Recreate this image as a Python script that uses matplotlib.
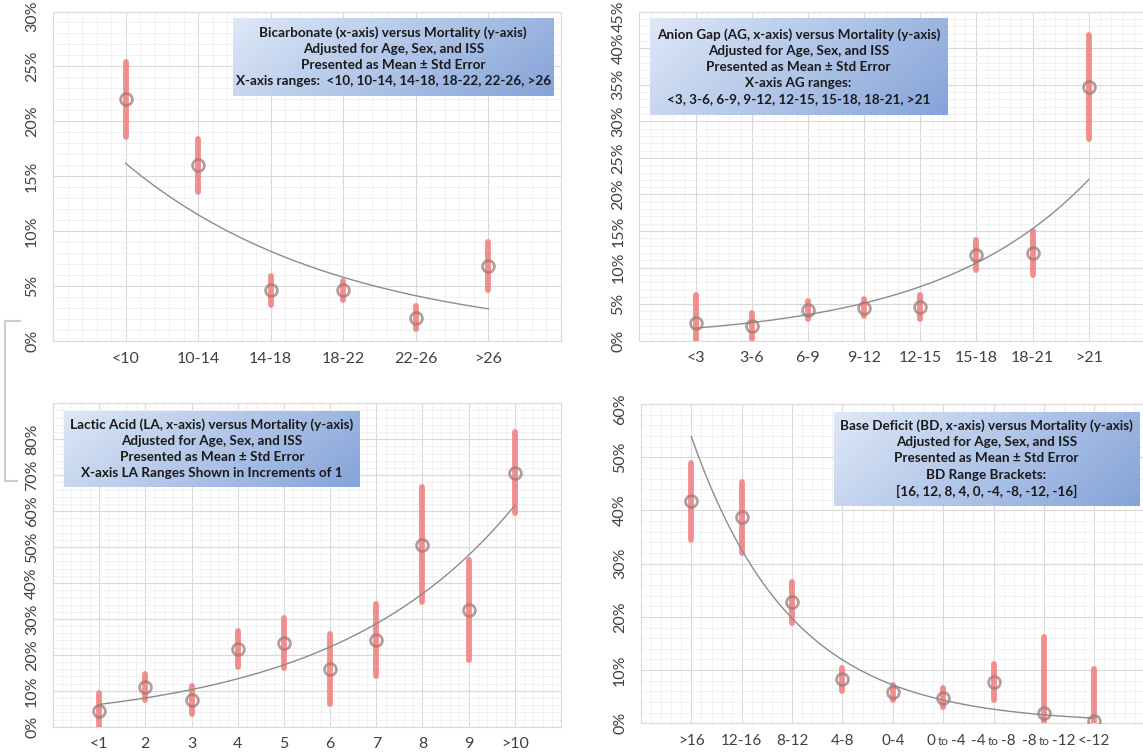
import matplotlib.pyplot as plt
import numpy as np
from matplotlib.ticker import MultipleLocator, FixedLocator, FuncFormatter
from matplotlib.lines import Line2D

plt.rcParams['font.family'] = ['Lato', 'DejaVu Sans']

W, H = 1143, 753

# bicarbonate
hco3_labels = ['<10', '10-14', '14-18', '18-22', '22-26', '>26']
hco3_mean = [22.0, 16.0, 4.6, 4.6, 2.1, 6.8]
hco3_se = [3.4, 2.4, 1.3, 0.9, 1.05, 2.2]
hco3_box = ['Bicarbonate (x-axis) versus Mortality (y-axis)',
            'Adjusted for Age, Sex, and ISS',
            'Presented as Mean \u00b1 Std Error',
            'X-axis ranges:  <10, 10-14, 14-18, 18-22, 22-26, >26']

# anion gap
ag_labels = ['<3', '3-6', '6-9', '9-12', '12-15', '15-18', '18-21', '>21']
ag_mean = [2.45, 2.0, 4.2, 4.5, 4.6, 11.7, 12.0, 34.7]
ag_se = [3.8, 1.8, 1.25, 1.15, 1.6, 2.05, 2.95, 7.15]
ag_box = ['Anion Gap (AG, x-axis) versus Mortality (y-axis)',
          'Adjusted for Age, Sex, and ISS',
          'Presented as Mean \u00b1 Std Error',
          'X-axis AG ranges:',
          '<3, 3-6, 6-9, 9-12, 12-15, 15-18, 18-21, >21']

# lactic acid
la_labels = ['<1', '2', '3', '4', '5', '6', '7', '8', '9', '>10']
la_mean = [4.4, 11.1, 7.4, 21.6, 23.2, 16.0, 24.1, 50.7, 32.5, 70.7]
la_se = [4.9, 3.55, 3.95, 5.0, 7.0, 9.7, 10.1, 16.0, 14.0, 11.2]
la_box = ['Lactic Acid (LA, x-axis) versus Mortality (y-axis)',
          'Adjusted for Age, Sex, and ISS',
          'Presented as Mean \u00b1 Std Error',
          'X-axis LA Ranges Shown in Increments of 1']

# base deficit
bd_labels = ['>16', '12-16', '8-12', '4-8', '0-4', '0 to -4', '-4 to -8', '-8 to -12', '<-12']
bd_mean = [41.7, 38.7, 22.7, 8.3, 5.8, 4.8, 7.8, 2.0, 0.4]
bd_se = [7.2, 6.7, 3.9, 2.15, 1.45, 1.8, 3.4, 14.3, 9.8]
bd_box = ['Base Deficit (BD, x-axis) versus Mortality (y-axis)',
          'Adjusted for Age, Sex, and ISS',
          'Presented as Mean \u00b1 Std Error',
          'BD Range Brackets:',
          '[16, 12, 8, 4, 0, -4, -8, -12, -16]']

fig = plt.figure(figsize=(W / 100, H / 100), dpi=100)

# gradient for the text boxes
gx, gy = np.meshgrid(np.linspace(0, 1, 200), np.linspace(0, 1, 60))
t = 0.75 * gx + 0.25 * gy
c0 = np.array([0.87, 0.91, 0.97])
c1 = np.array([0.52, 0.64, 0.85])
grad = c0 + t[..., None] * (c1 - c0)

TICK_C = '#404040'
FS = 11.5


def panel(rect, labels, mean, se, ymax, ystep, ylab_max, box, lines):
    l, r, top, b = rect
    ax = fig.add_axes([l / W, 1 - b / H, (r - l) / W, (b - top) / H])
    n = len(labels)
    x = np.arange(1, n + 1)
    mean = np.array(mean)
    se = np.array(se)

    lc = ax.vlines(x, mean - se, mean + se, color='#f07c7c', alpha=0.85,
                   lw=4.2, zorder=3)
    lc.set_capstyle('round')

    coef = np.polyfit(x, np.log(mean), 1)
    xx = np.linspace(1, n, 200)
    ax.plot(xx, np.exp(np.polyval(coef, xx)), color='#8c8c8c', lw=1.0, zorder=4)

    ax.plot(x, mean, 'o', ms=8.5, mfc='none', mec='#a07a7a', mew=2.0,
            alpha=0.75, zorder=5)

    ax.set_xlim(0, n + 1)
    ax.set_ylim(0, ymax)
    ax.xaxis.set_major_locator(FixedLocator(x))
    ax.xaxis.set_minor_locator(MultipleLocator(0.2))
    ax.yaxis.set_major_locator(MultipleLocator(ystep))
    ax.yaxis.set_minor_locator(MultipleLocator(ystep / 5))
    ax.grid(which='major', color='#d9d9d9', lw=0.8)
    ax.grid(which='minor', color='#efefef', lw=0.6)
    ax.set_axisbelow(True)
    ax.tick_params(which='both', length=0)
    ax.set_yticklabels([])
    for s in ax.spines.values():
        s.set_color('#d9d9d9')
        s.set_linewidth(0.8)

    # y labels, rotated, the top one nudged down to stay on the page
    for v in np.arange(0, ylab_max + 0.01, ystep):
        dy = -3.5 if v >= ymax - 1e-6 else 0
        ax.annotate('%d%%' % round(v), xy=(0, v),
                    xycoords=('axes fraction', 'data'),
                    xytext=(-10, dy), textcoords='offset points',
                    rotation=90, ha='right', va='center', fontsize=FS,
                    color=TICK_C, annotation_clip=False)

    # x labels; "a to b" gets a small "to" like the original
    small = any(' to ' in s for s in labels)
    ax.set_xticklabels([])
    for xi, s in zip(x, labels):
        kw = dict(xy=(xi, 0), xycoords=('data', 'axes fraction'),
                  textcoords='offset points', va='baseline', color=TICK_C,
                  annotation_clip=False)
        if ' to ' in s:
            a, c = s.split(' to ')
            ax.annotate(a, xytext=(-5.5, -15.5), ha='right', fontsize=FS - 0.5, **kw)
            ax.annotate('to', xytext=(0, -15.5), ha='center', fontsize=8.5, **kw)
            ax.annotate(c, xytext=(5.5, -15.5), ha='left', fontsize=FS - 0.5, **kw)
        else:
            ax.annotate(s, xytext=(0, -15.5), ha='center',
                        fontsize=FS - 0.5 if small else FS, **kw)

    x0, y0, x1, y1 = box
    bx = fig.add_axes([x0 / W, 1 - y1 / H, (x1 - x0) / W, (y1 - y0) / H])
    bx.imshow(grad, aspect='auto', extent=[0, 1, 0, 1])
    bx.set_xlim(0, 1)
    bx.set_ylim(0, 1)
    bx.axis('off')
    bx.text(0.5, 0.5, '\n'.join(lines), ha='center', va='center',
            fontsize=9.7, fontweight='bold', color='#1a1a1a', linespacing=1.41)
    return ax


panel((53, 561, 11.5, 341), hco3_labels, hco3_mean, hco3_se, 30, 5, 30,
      (233, 18, 553.5, 96), hco3_box)
panel((639.4, 1145, 11.7, 340.7), ag_labels, ag_mean, ag_se, 45, 5, 45,
      (649.6, 18, 947, 115), ag_box)
panel((53, 561, 403.3, 726.7), la_labels, la_mean, la_se, 90, 10, 80,
      (64, 410.7, 360, 486.7), la_box)
panel((641, 1144.7, 404, 723.3), bd_labels, bd_mean, bd_se, 60, 10, 60,
      (833.8, 411.7, 1138.9, 506), bd_box)

# stray bracket at the left edge
fig.add_artist(Line2D(np.array([20, 5, 5, 17]) / W,
                      1 - np.array([321, 321, 481, 481]) / H,
                      color='#cccccc', lw=1.5))

fig.savefig('out.png', dpi=100)
